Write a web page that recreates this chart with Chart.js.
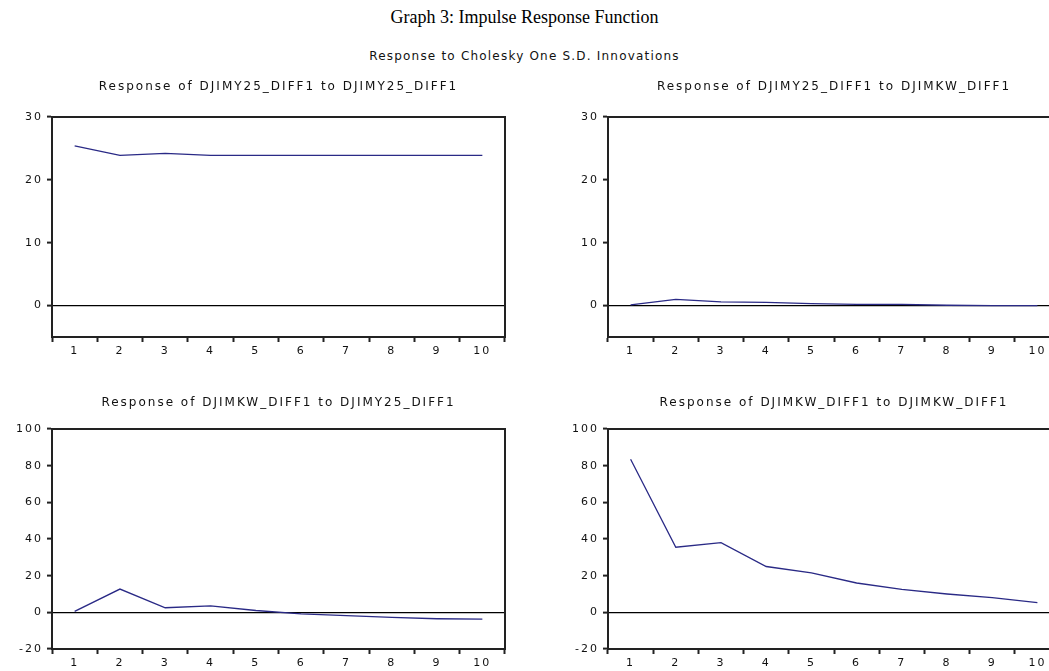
<!DOCTYPE html>
<html>
<head>
<meta charset="utf-8">
<script src="https://cdn.jsdelivr.net/npm/chart.js@4.4.1/dist/chart.umd.min.js"></script>
<style>
  html, body { margin: 0; padding: 0; background: #fff; }
  body { width: 1049px; height: 671px; overflow: hidden; position: relative; }
  .title { position: absolute; left: 0; width: 1049px; text-align: center; color: #000; }
  #mainTitle { top: 7px; font: 18px "Liberation Serif", "Times New Roman", serif; }
  #subTitle { top: 49px; font: 12px "DejaVu Sans", sans-serif; letter-spacing: 1.2px; color: #111; }
  canvas { position: absolute; }
</style>
</head>
<body>
<div id="mainTitle" class="title">Graph 3: Impulse Response Function</div>
<div id="subTitle" class="title">Response to Cholesky One S.D. Innovations</div>
<canvas id="c11" width="520" height="290" style="left:0px;top:75px"></canvas>
<canvas id="c12" width="520" height="290" style="left:556px;top:75px"></canvas>
<canvas id="c21" width="520" height="290" style="left:0px;top:387px"></canvas>
<canvas id="c22" width="520" height="290" style="left:556px;top:387px"></canvas>
<script>
// periods on the x axis
const periods = ['1', '2', '3', '4', '5', '6', '7', '8', '9', '10'];

// responses
const y25ToY25 = [25.4, 23.9, 24.2, 23.9, 23.9, 23.9, 23.9, 23.9, 23.9, 23.9];
const y25ToKw = [0.1, 1.0, 0.6, 0.5, 0.3, 0.2, 0.2, 0.05, 0.0, 0.0];
const kwToY25 = [0.5, 12.7, 2.5, 3.5, 1.0, -0.8, -1.8, -2.8, -3.5, -3.7];
const kwToKw = [83.5, 35.5, 38.0, 25.0, 21.5, 16.0, 12.5, 10.0, 8.0, 5.3];

// y tick values
const topTicks = [0, 10, 20, 30];
const bottomTicks = [-20, 0, 20, 40, 60, 80, 100];

const lineColor = '#2a2a86';
const axisColor = '#222';

// wide eviews-like lettering
const spacingPlugin = {
    id: 'spacing',
    beforeUpdate(chart) { chart.ctx.letterSpacing = '2px'; },
    beforeDraw(chart) { chart.ctx.letterSpacing = '2px'; }
};

// top and right edges of the plot box
const boxPlugin = {
    id: 'box',
    afterDatasetsDraw(chart) {
        const a = chart.chartArea;
        const ctx = chart.ctx;
        ctx.save();
        ctx.strokeStyle = axisColor;
        ctx.lineWidth = 2;
        ctx.beginPath();
        ctx.moveTo(a.left, a.top);
        ctx.lineTo(a.right, a.top);
        ctx.lineTo(a.right, a.bottom);
        ctx.stroke();
        ctx.restore();
    }
};

function makePanel(id, title, data, yMin, yMax, ticks, titleTop, rightPad) {
    return new Chart(document.getElementById(id), {
        type: 'line',
        data: {
            labels: periods,
            datasets: [{
                data: data,
                borderColor: lineColor,
                borderWidth: 1.3,
                pointRadius: 0,
                tension: 0,
                fill: false
            }]
        },
        options: {
            responsive: false,
            animation: false,
            devicePixelRatio: 1,
            layout: { padding: { left: 0, right: rightPad, top: 0, bottom: 0 } },
            plugins: {
                legend: { display: false },
                tooltip: { enabled: false },
                title: {
                    display: true,
                    text: title,
                    fullSize: false,
                    color: '#111',
                    font: { family: 'DejaVu Sans', size: 12, weight: 'normal' },
                    padding: { top: titleTop, bottom: 42 - titleTop - 14.4 }
                }
            },
            scales: {
                x: {
                    offset: true,
                    afterFit(scale) { scale.height = 28; },
                    grid: {
                        offset: true,
                        drawOnChartArea: false,
                        drawTicks: true,
                        tickLength: 5,
                        tickColor: axisColor,
                        tickWidth: 2
                    },
                    border: { display: true, color: axisColor, width: 2 },
                    ticks: {
                        color: '#111',
                        padding: 3,
                        maxRotation: 0,
                        autoSkip: false,
                        font: { family: 'DejaVu Sans', size: 11 }
                    }
                },
                y: {
                    min: yMin,
                    max: yMax,
                    afterFit(scale) { scale.width = 52; },
                    afterBuildTicks(scale) { scale.ticks = ticks.map(v => ({ value: v })); },
                    grid: {
                        drawTicks: true,
                        tickLength: 5,
                        tickColor: axisColor,
                        tickWidth: 2,
                        color: ctx => (ctx.tick && ctx.tick.value === 0) ? '#000' : 'rgba(0,0,0,0)',
                        lineWidth: 1.2
                    },
                    border: { display: true, color: axisColor, width: 2 },
                    ticks: {
                        color: '#111',
                        padding: 4,
                        font: { family: 'DejaVu Sans', size: 11 }
                    }
                }
            }
        },
        plugins: [spacingPlugin, boxPlugin]
    });
}

makePanel('c11', 'Response of DJIMY25_DIFF1 to DJIMY25_DIFF1', y25ToY25, -5, 30, topTicks, 5, 15);
makePanel('c12', 'Response of DJIMY25_DIFF1 to DJIMKW_DIFF1', y25ToKw, -5, 30, topTicks, 5, 16);
makePanel('c21', 'Response of DJIMKW_DIFF1 to DJIMY25_DIFF1', kwToY25, -20, 100, bottomTicks, 8.5, 15);
makePanel('c22', 'Response of DJIMKW_DIFF1 to DJIMKW_DIFF1', kwToKw, -20, 100, bottomTicks, 8.5, 16);
</script>
</body>
</html>
